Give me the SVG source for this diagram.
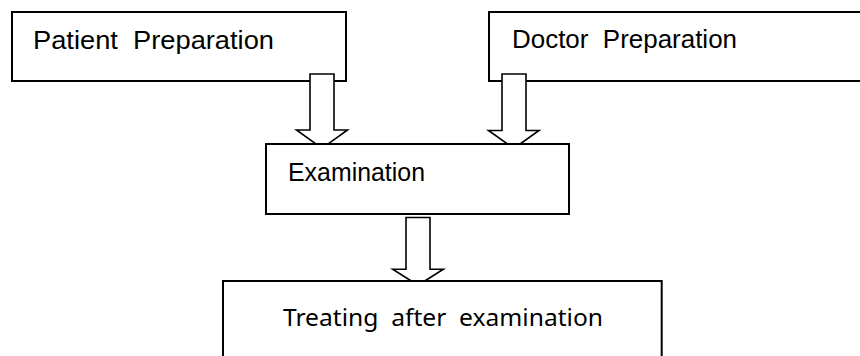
<svg xmlns="http://www.w3.org/2000/svg" width="860" height="356" viewBox="0 0 860 356">
<style>
.box{fill:#fff;stroke:#000;stroke-width:2}
.arr{fill:#fff;stroke:#000;stroke-width:1.6;stroke-linejoin:miter}
.t{font-family:"Liberation Sans",Arial,sans-serif;font-size:26px;fill:#000;white-space:pre}
.t2{font-family:"Noto Sans","Open Sans",sans-serif;font-size:24px;fill:#000;white-space:pre}
</style>
<rect width="860" height="356" fill="#fff"/>
<g id="patient">
<rect class="box" x="12" y="12" width="334" height="69"/>
<text class="t" x="33" y="49" textLength="241" lengthAdjust="spacingAndGlyphs">Patient  Preparation</text>
</g>
<g id="doctor">
<rect class="box" x="489" y="12" width="380" height="69"/>
<text class="t" x="512" y="48" textLength="225" lengthAdjust="spacingAndGlyphs">Doctor  Preparation</text>
</g>
<g id="connectors">
<polygon class="arr" points="310,74 334,74 334,130 347.5,130 322,148.3 296.5,130 310,130"/>
<polygon class="arr" points="502,74 526,74 526,130.5 539,130.5 513.8,148.5 488.5,130.5 502,130.5"/>
<polygon class="arr" points="406,217.5 430,217.5 430,269.3 443.3,269.3 418,285.2 392.7,269.3 406,269.3"/>
</g>
<g id="examination">
<rect class="box" x="266" y="144" width="303" height="70"/>
<text class="t" x="288" y="181" textLength="137" lengthAdjust="spacingAndGlyphs">Examination</text>
</g>
<g id="treating">
<rect class="box" x="223" y="281" width="438.7" height="90"/>
<text class="t2" x="283" y="325.5" textLength="320" lengthAdjust="spacingAndGlyphs">Treating  after  examination</text>
</g>
</svg>
